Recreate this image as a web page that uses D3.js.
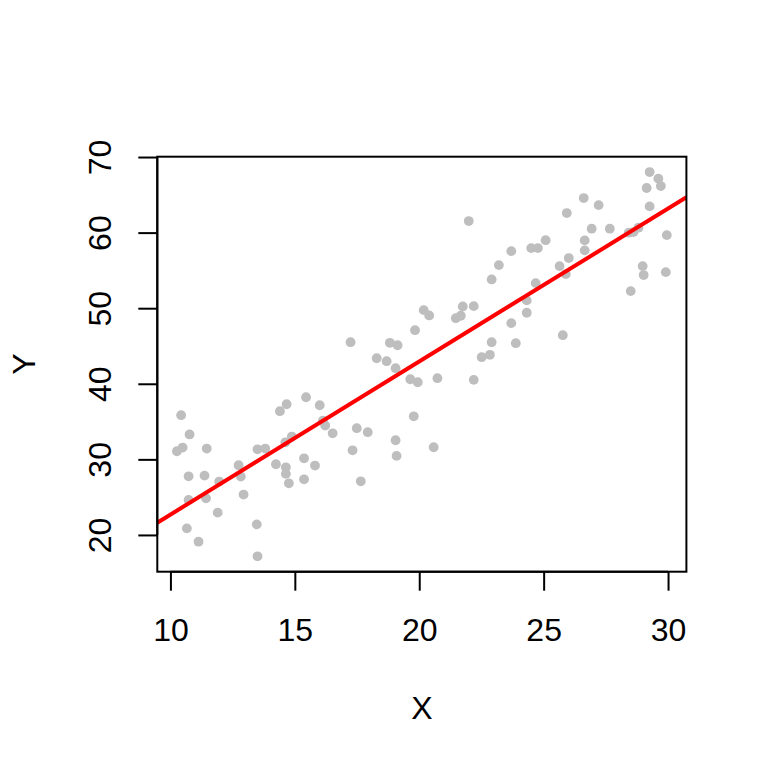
<!DOCTYPE html>
<html>
<head>
<meta charset="utf-8">
<script src="https://cdn.jsdelivr.net/npm/d3@7"></script>
<style>
  html, body { margin: 0; padding: 0; background: #fff; }
  svg { display: block; }
  text { font-family: "Liberation Sans", Arial, sans-serif; fill: #000; }
</style>
</head>
<body>
<svg id="chart" width="768" height="768"></svg>
<script>
// ---- data ----
const xValues = [
  10.43, 10.77, 10.26, 10.49, 11.46, 10.73, 11.37, 11.96, 10.73, 11.43,
  11.90, 10.66, 11.13, 12.74, 12.83, 12.94, 13.47, 13.50, 13.50, 13.81,
  14.24, 14.64, 14.64, 14.76, 15.37, 15.37, 15.81, 14.40, 14.67, 15.45,
  16.00, 16.13, 16.22, 16.52, 14.62, 14.88, 17.24, 17.49, 17.93, 17.32,
  17.65, 18.29, 18.69, 18.82, 19.13, 19.05, 19.64, 19.94, 19.83, 19.78,
  19.05, 19.09, 20.58, 20.73, 22.19, 22.91, 22.51, 22.84, 20.18, 20.40,
  21.75, 22.19, 21.47, 21.67, 21.99, 23.20, 22.91, 23.70, 23.70, 29.26,
  29.61, 29.71, 29.14, 29.26, 26.61, 27.21, 25.93, 26.93, 27.66, 28.42,
  28.61, 28.81, 29.95, 26.65, 26.65, 25.08, 24.50, 24.77, 26.01, 25.64,
  25.89, 24.68, 28.98, 29.02, 29.91, 28.50, 24.32, 24.32, 23.88, 25.77
];
const yValues = [
  35.84, 33.30, 31.07, 31.56, 31.43, 27.76, 27.85, 27.06, 24.63, 24.85,
  22.95, 20.87, 19.11, 29.22, 27.72, 25.34, 21.40, 17.17, 31.33, 31.43,
  29.35, 28.95, 28.08, 26.83, 30.14, 27.36, 29.18, 36.37, 37.29, 38.22,
  37.16, 35.13, 34.47, 33.45, 32.26, 33.02, 45.50, 34.12, 33.59, 31.20,
  27.10, 43.38, 42.99, 45.42, 45.10, 42.06, 40.60, 40.20, 47.09, 35.70,
  32.53, 30.46, 31.60, 40.74, 40.52, 45.50, 43.52, 43.83, 49.74, 49.04,
  50.23, 50.27, 48.68, 49.00, 61.53, 55.70, 53.80, 57.55, 48.02, 68.01,
  67.14, 66.16, 65.90, 63.47, 64.57, 63.64, 62.59, 60.52, 60.52, 59.99,
  60.07, 60.65, 59.67, 58.97, 57.65, 59.00, 57.95, 57.95, 56.63, 55.57,
  54.51, 53.32, 55.57, 54.38, 54.77, 52.26, 51.03, 49.40, 45.37, 46.43
];
const xTicks = [10, 15, 20, 25, 30];
const yTicks = [20, 30, 40, 50, 60, 70];
const fitIntercept = 2.44;
const fitSlope = 2.025;
const xLabel = "X";
const yLabel = "Y";

// ---- layout ----
const W = 768, H = 768;
const plot = { left: 157.3, right: 686.4, top: 156.7, bottom: 571.7 };
const fontSize = 32;

function rExtent(vals) {
  const [a, b] = d3.extent(vals);
  const pad = (b - a) * 0.04;
  return [a - pad, b + pad];
}

const x = d3.scaleLinear().domain(rExtent(xValues)).range([plot.left, plot.right]);
const y = d3.scaleLinear().domain(rExtent(yValues)).range([plot.bottom, plot.top]);

const svg = d3.select("#chart");

svg.append("defs").append("clipPath").attr("id", "clip")
  .append("rect")
  .attr("x", plot.left).attr("y", plot.top)
  .attr("width", plot.right - plot.left).attr("height", plot.bottom - plot.top);

// points
const pts = d3.range(xValues.length).map(i => ({ x: xValues[i], y: yValues[i] }));
svg.append("g")
  .selectAll("circle")
  .data(pts)
  .enter().append("circle")
  .attr("cx", d => x(d.x))
  .attr("cy", d => y(d.y))
  .attr("r", 4.9)
  .attr("fill", "#bebebe");

// regression line (abline)
const xd = x.domain();
svg.append("line")
  .attr("clip-path", "url(#clip)")
  .attr("x1", x(xd[0])).attr("y1", y(fitIntercept + fitSlope * xd[0]))
  .attr("x2", x(xd[1])).attr("y2", y(fitIntercept + fitSlope * xd[1]))
  .attr("stroke", "#ff0000")
  .attr("stroke-width", 4);

// box
svg.append("rect")
  .attr("x", plot.left).attr("y", plot.top)
  .attr("width", plot.right - plot.left).attr("height", plot.bottom - plot.top)
  .attr("fill", "none").attr("stroke", "#000").attr("stroke-width", 2);

// x axis
const xAxis = d3.axisBottom(x).tickValues(xTicks).tickSize(19).tickPadding(28).tickFormat(d3.format("d"));
const gx = svg.append("g").attr("transform", `translate(0,${plot.bottom})`).call(xAxis);
gx.select(".domain").attr("stroke-width", 2)
  .attr("d", `M${x(xTicks[0])},0H${x(xTicks[xTicks.length-1])}`);
gx.selectAll(".tick line").attr("stroke-width", 2);
gx.selectAll(".tick text")
  .attr("font-size", fontSize)
  .attr("font-family", "Liberation Sans, Arial, sans-serif");

// y axis
const yAxis = d3.axisLeft(y).tickValues(yTicks).tickSize(19).tickPadding(0).tickFormat(d3.format("d"));
const gy = svg.append("g").attr("transform", `translate(${plot.left},0)`).call(yAxis);
gy.select(".domain").attr("stroke-width", 2)
  .attr("d", `M0,${y(yTicks[0])}V${y(yTicks[yTicks.length-1])}`);
gy.selectAll(".tick line").attr("stroke-width", 2);
gy.selectAll(".tick text")
  .attr("font-size", fontSize)
  .attr("font-family", "Liberation Sans, Arial, sans-serif")
  .attr("x", null).attr("dy", null)
  .attr("text-anchor", "middle")
  .attr("transform", "translate(-46,0) rotate(-90)");

// axis titles
svg.append("text")
  .attr("x", (plot.left + plot.right) / 2)
  .attr("y", 719)
  .attr("text-anchor", "middle")
  .attr("font-size", fontSize)
  .text(xLabel);

svg.append("text")
  .attr("transform", `translate(35,${(plot.top + plot.bottom) / 2}) rotate(-90)`)
  .attr("text-anchor", "middle")
  .attr("font-size", fontSize)
  .text(yLabel);
</script>
</body>
</html>
